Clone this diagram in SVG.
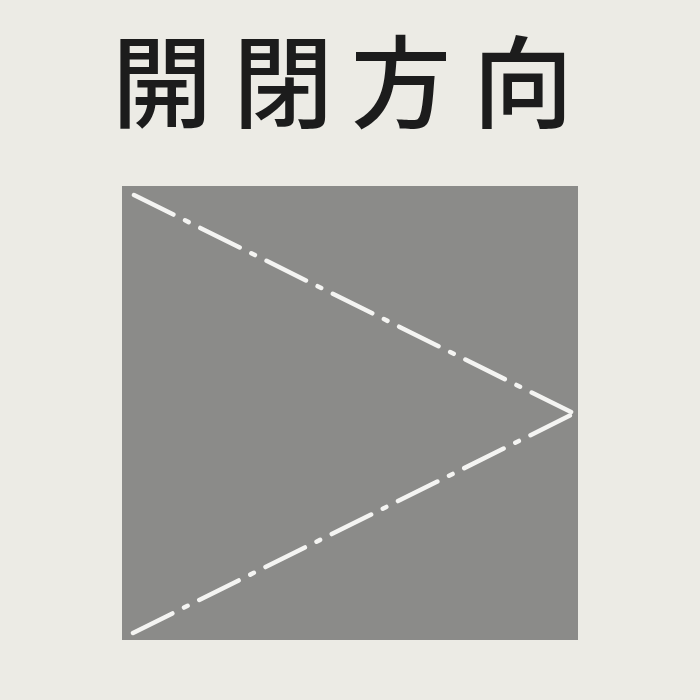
<svg xmlns="http://www.w3.org/2000/svg" width="700" height="700" viewBox="0 0 700 700">
<style>
.t{font-family:"Noto Sans CJK JP","Noto Sans CJK SC",sans-serif;font-size:100px;font-weight:500;fill:#1c1c1c;text-anchor:middle}
.dl{stroke:#f4f4f2;stroke-width:4.5;fill:none;stroke-linecap:round;stroke-dasharray:44 13 4 13}
</style>
<rect x="0" y="0" width="700" height="700" fill="#ecebe5"/>
<g id="title">
<text class="t" x="162" y="120">開</text>
<text class="t" x="283" y="120">閉</text>
<text class="t" x="401" y="120">方</text>
<text class="t" x="523" y="120">向</text>
</g>
<g id="panel">
<rect x="122" y="186" width="456" height="454" fill="#8b8b89"/>
</g>
<g id="connectors">
<line class="dl" x1="134" y1="195" x2="573" y2="413"/>
<line class="dl" x1="133" y1="633" x2="573" y2="414"/>
</g>
</svg>
